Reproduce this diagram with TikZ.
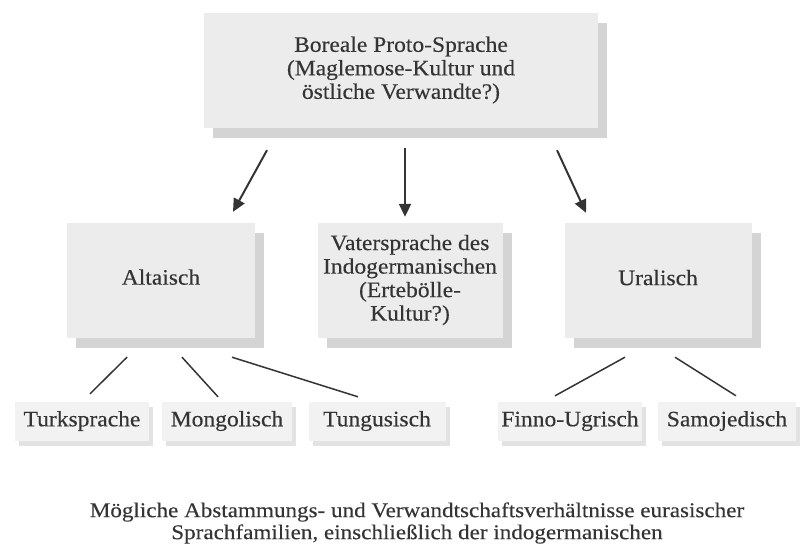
\documentclass[tikz,border=0pt]{standalone}
\usepackage{fontspec}
\setmainfont{Liberation Serif}
\newfontfamily\boxfont[FakeStretch=1.07,FakeBold=0.3]{Liberation Serif}
\newfontfamily\capfont[FakeStretch=1.10,FakeBold=0.2]{Liberation Serif}
\usetikzlibrary{arrows.meta,shadows}
\definecolor{ink}{RGB}{52,52,52}
\definecolor{boxgray}{RGB}{236,236,236}
\definecolor{shadowgray}{RGB}{212,212,212}
\definecolor{leafgray}{RGB}{242,242,242}
\definecolor{leafshadow}{RGB}{226,226,226}
\begin{document}
\begin{tikzpicture}[x=1pt,y=-1pt,
  familybox/.style={fill=boxgray,text=ink,align=center,inner sep=0pt,minimum height=115pt,
    drop shadow={shadow xshift=9pt,shadow yshift=-10pt,fill=shadowgray,opacity=1},
    font=\boxfont\fontsize{22}{23.5}\selectfont},
  leafbox/.style={fill=leafgray,text=ink,inner sep=0pt,minimum height=39pt,
    drop shadow={shadow xshift=4pt,shadow yshift=-5pt,fill=leafshadow,opacity=1},
    font=\boxfont\fontsize{22}{23.5}\selectfont},
  pfeil/.style={draw=ink,line width=2pt,-{Triangle[length=13pt,width=12pt]}},
  zweig/.style={draw=ink,line width=1.5pt}]
\useasboundingbox (0,0) rectangle (800,550);
% Urfamilie
\node[familybox,minimum width=394pt] (boreal) at (401,70) {Boreale Proto-Sprache\\(Maglemose-Kultur und\\östliche Verwandte?)};
% Sprachfamilien
\node[familybox,minimum width=188pt] (alt) at (161,280) {\raisebox{6pt}{Altaisch}};
\node[familybox,minimum width=185pt] (indo) at (410,280) {Vatersprache des\\Indogermanischen\\(Ertebölle-\\Kultur?)};
\node[familybox,minimum width=187pt] (ural) at (658,280) {\raisebox{5pt}{Uralisch}};
% Einzelsprachen
\node[leafbox,minimum width=134pt] (turk) at (82,421) {Turksprache};
\node[leafbox,minimum width=130pt] (mong) at (227,421) {Mongolisch};
\node[leafbox,minimum width=137pt] (tung) at (377,421) {Tungusisch};
\node[leafbox,minimum width=144pt] (finn) at (570,421) {Finno-Ugrisch};
\node[leafbox,minimum width=138pt] (samo) at (727,421) {Samojedisch};
% Pfeile
\draw[pfeil] ([xshift=-134pt,yshift=-22.5pt]boreal.south) -- ([xshift=72pt,yshift=10.5pt]alt.north);
\draw[pfeil] ([xshift=4pt,yshift=-20.5pt]boreal.south) -- ([xshift=-5pt,yshift=5.5pt]indo.north);
\draw[pfeil] ([xshift=156pt,yshift=-22.5pt]boreal.south) -- ([xshift=-72pt,yshift=9.5pt]ural.north);
% Zweige
\draw[zweig] ([xshift=-34pt,yshift=-19.5pt]alt.south) -- ([xshift=8pt,yshift=7.5pt]turk.north);
\draw[zweig] ([xshift=21pt,yshift=-19.5pt]alt.south) -- ([xshift=-9pt,yshift=4.5pt]mong.north);
\draw[zweig] ([xshift=71pt,yshift=-19.5pt]alt.south) -- ([xshift=-19pt,yshift=4.5pt]tung.north);
\draw[zweig] ([xshift=-33pt,yshift=-19.5pt]ural.south) -- ([xshift=-15pt,yshift=5.5pt]finn.north);
\draw[zweig] ([xshift=17pt,yshift=-19.5pt]ural.south) -- ([xshift=9pt,yshift=5.5pt]samo.north);
% Unterschrift
\node[text=ink,align=center,font=\capfont\fontsize{21}{22}\selectfont] (caption) at (417,523)
  {Mögliche Abstammungs- und Verwandtschaftsverhältnisse eurasischer\\Sprachfamilien, einschließlich der indogermanischen};
\end{tikzpicture}
\end{document}
